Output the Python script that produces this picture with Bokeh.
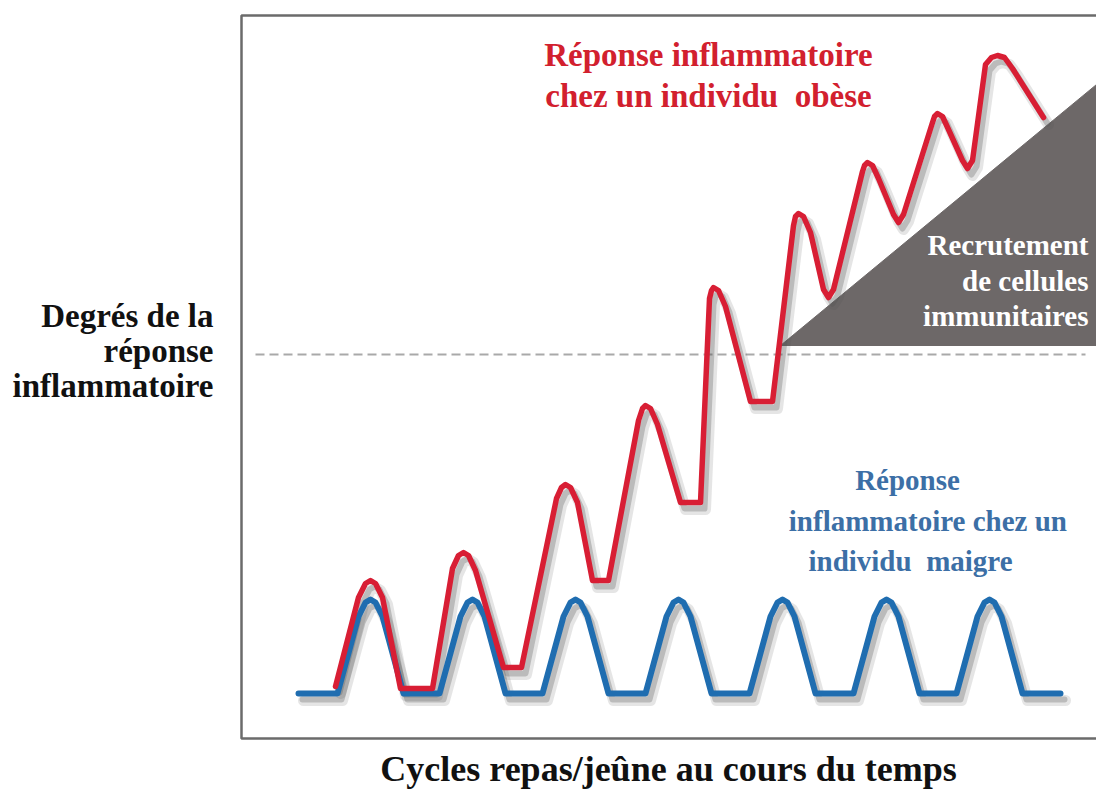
from bokeh.plotting import figure
from bokeh.models import ColumnDataSource, Range1d
from bokeh.transform import dodge
from bokeh.core.properties import value
from bokeh.embed import file_html
from bokeh.resources import INLINE

# ---- data (time units on x, response degree on y) ----
lean_x = [57, 96, 117, 124, 129, 134, 141, 162, 198, 219, 226, 231, 236, 243,
          264, 301, 322, 329, 334, 339, 346, 367, 404, 425, 432, 437, 442, 449,
          470, 508, 529, 536, 541, 546, 553, 574, 612, 633, 640, 645, 650, 657,
          678, 715, 736, 743, 748, 753, 760, 781, 819]
lean_y = [45, 45, 122, 136, 139, 136, 122, 45, 45, 122, 136, 139, 136, 122,
          45, 45, 122, 136, 139, 136, 122, 45, 45, 122, 136, 139, 136, 122,
          45, 45, 122, 136, 139, 136, 122, 45, 45, 122, 136, 139, 136, 122,
          45, 45, 122, 136, 139, 136, 122, 45, 45]

obese_x = [94, 117, 124, 129, 134, 141, 159, 191, 211, 217, 222, 227, 234,
           262, 280, 315, 320, 324, 329, 336, 351, 367, 397, 401, 404, 409, 416,
           439, 459, 468, 470, 472, 477, 484, 509, 531, 552, 554, 557, 562, 569,
           582, 587, 592, 621, 623, 626, 631, 637, 652, 657, 662, 691, 693, 696,
           701, 707, 721, 726, 731, 744, 750, 756, 763, 771, 802]
obese_y = [52, 141, 155, 158, 155, 141, 50, 50, 170, 183, 186, 183, 168,
           71, 71, 240, 251, 254, 251, 236, 158, 158, 318, 330, 333, 330, 314,
           236, 236, 440, 448, 451, 448, 432, 337, 337, 513, 522, 525, 522, 506,
           449, 441, 449, 567, 573, 576, 573, 560, 524, 516, 524, 616, 622, 625,
           622, 609, 578, 570, 578, 674, 681, 683, 681, 670, 621]

threshold = 384
threshold_x = [14, 844]

recruit_x = [539, 855, 855]
recruit_y = [393, 654, 393]

frame_x = [855, 0, 0, 855]
frame_y = [723, 723, 0, 0]

obese_lines = ["Réponse inflammatoire", "chez un individu\u00a0 obèse"]
lean_lines = ["Réponse", "inflammatoire  chez un", "individu\u00a0 maigre"]
recruit_lines = ["Recrutement", "de cellules", "immunitaires"]
ylabel_lines = ["Degrés de la", "réponse", "inflammatoire"]
xlabel_text = ["Cycles repas/jeûne au cours du temps"]

FONT = value("Liberation Serif")
RED = "#d81e34"
BLUE = "#1f6db0"

p = figure(width=1096, height=790, x_range=Range1d(-241, 855), y_range=Range1d(-52, 738),
           output_backend="svg", toolbar_location=None,
           min_border_left=0, min_border_right=0, min_border_top=0, min_border_bottom=0)
p.axis.visible = False
p.grid.visible = False
p.outline_line_color = None
p.background_fill_color = "white"
p.border_fill_color = "white"

# chart frame (left, top, bottom edges)
p.line(frame_x, frame_y, line_color="#6b6b6b", line_width=2.5)

# threshold dashed line
p.line(threshold_x, [threshold, threshold], line_color="#a9a9a9", line_width=2,
       line_dash="9 5")

# recruitment triangle
p.patch(recruit_x, recruit_y, fill_color="#6d6868", line_color="#6d6868")

lean_src = ColumnDataSource(dict(x=lean_x, y=lean_y))
obese_src = ColumnDataSource(dict(x=obese_x, y=obese_y))

# drop shadows
for src in (lean_src, obese_src):
    p.line(dodge("x", 5), dodge("y", -7), source=src, line_color="#505050",
           line_alpha=0.15, line_width=11, line_join="round", line_cap="round")
    p.line(dodge("x", 4), dodge("y", -6), source=src, line_color="#505050",
           line_alpha=0.28, line_width=6, line_join="round", line_cap="round")

p.line("x", "y", source=lean_src, line_color=BLUE, line_width=6,
       line_join="round", line_cap="round")
p.line("x", "y", source=obese_src, line_color=RED, line_width=5.5,
       line_join="round", line_cap="round")

# texts
p.text(x=[467, 467], y=[684, 643], text=obese_lines, text_font=FONT,
       text_font_style="bold", text_font_size="33px", text_color="#d2202e",
       text_align="center", text_baseline="alphabetic")
p.text(x=[666, 690, 669], y=[259, 218, 178], text=lean_lines, text_font=FONT,
       text_font_style="bold", text_font_size="29px", text_color="#3c6fa6",
       text_align="center", text_baseline="alphabetic")
p.text(x=[847, 847, 847], y=[494, 458, 423], text=recruit_lines, text_font=FONT,
       text_font_style="bold", text_font_size="29px", text_color="white",
       text_align="right", text_baseline="alphabetic")
p.text(x=[-28, -28, -28], y=[423, 388, 353], text=ylabel_lines, text_font=FONT,
       text_font_style="bold", text_font_size="33px", text_color="#111111",
       text_align="right", text_baseline="alphabetic")
p.text(x=[427], y=[-30], text=xlabel_text, text_font=FONT,
       text_font_style="bold", text_font_size="36px", text_color="#111111",
       text_align="center", text_baseline="alphabetic")

open("out.html", "w").write(file_html(p, INLINE))
